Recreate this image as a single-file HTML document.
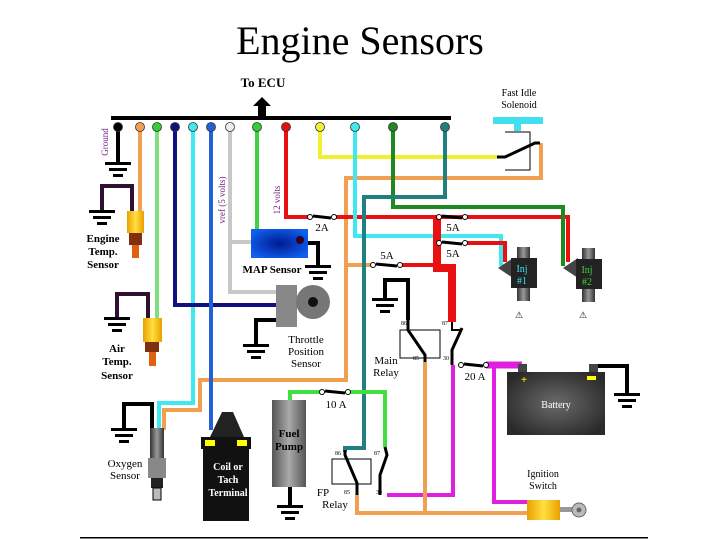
<!DOCTYPE html>
<html><head><meta charset="utf-8"><style>
html,body{margin:0;padding:0;background:#fff;width:720px;height:540px;overflow:hidden}
svg{display:block}
text{font-family:"Liberation Serif",serif}
</style></head><body>
<svg width="720" height="540" viewBox="0 0 720 540" xmlns="http://www.w3.org/2000/svg">
<defs>
<radialGradient id="mapg" cx="0.5" cy="0.5" r="0.6"><stop offset="0" stop-color="#001a90"/><stop offset="1" stop-color="#1060f0"/></radialGradient>
<radialGradient id="batg" cx="0.5" cy="0.5" r="0.6"><stop offset="0" stop-color="#6a6a6a"/><stop offset="1" stop-color="#2a2a2a"/></radialGradient>
<linearGradient id="cylg" x1="0" x2="1"><stop offset="0" stop-color="#333"/><stop offset="0.5" stop-color="#999"/><stop offset="1" stop-color="#333"/></linearGradient>
<linearGradient id="pumpg" x1="0" x2="1"><stop offset="0" stop-color="#555"/><stop offset="0.5" stop-color="#aaa"/><stop offset="1" stop-color="#555"/></linearGradient>
<linearGradient id="yelg" x1="0" x2="1"><stop offset="0" stop-color="#e8a000"/><stop offset="0.5" stop-color="#ffe040"/><stop offset="1" stop-color="#e8a000"/></linearGradient>
<g id="gnd"><rect x="-13" y="0" width="26" height="3" fill="#000"/><rect x="-9" y="6" width="18" height="3" fill="#000"/><rect x="-5" y="12" width="10" height="3" fill="#000"/></g>
</defs>

<text x="360" y="54" font-size="40" text-anchor="middle">Engine Sensors</text>
<text x="263" y="87" font-size="13" font-weight="bold" text-anchor="middle">To ECU</text>
<polygon points="262,97 253,106 258,106 258,116 266,116 266,106 271,106" fill="#000"/>
<rect x="111" y="116" width="340" height="4" fill="#000"/>

<g fill="none" stroke-width="4" stroke-linejoin="miter">
<polyline points="541,143 541,178 346,178 346,380 200,380 200,410 164,410 164,430" stroke="#f0a050"/>
<polyline points="346,265 373,265" stroke="#f0a050"/>
<polyline points="193,127 193,403 159,403 159,430" stroke="#40e8f0"/>
<polyline points="140,127 140,212" stroke="#f0a050"/>
<polyline points="157,127 157,318" stroke="#80e080"/>
<polyline points="175,127 175,305 280,305" stroke="#101080"/>
<polyline points="211,127 211,430" stroke="#2060d8"/>
<polyline points="230,127 230,292 280,292" stroke="#c8c8c8"/>
<polyline points="230,242 252,242" stroke="#c8c8c8"/>
<polyline points="257,127 257,230" stroke="#40d040"/>
<polyline points="286,127 286,217 310,217" stroke="#e81010"/>
<polyline points="334,217 568,217 568,262" stroke="#e81010"/>
<polyline points="320,127 320,157 497,157" stroke="#f0f030"/>
<polyline points="355,127 355,236 501,236 501,266" stroke="#40e8f0"/>
<polyline points="393,127 393,207 563,207 563,266" stroke="#208820"/>
<polyline points="445,127 445,197 364,197 364,448 345,448 345,452" stroke="#208080"/>
<polyline points="465,243 505,243 505,262" stroke="#e81010"/>
<polyline points="400,265 437,265" stroke="#e81010"/>
<polyline points="132,212 132,186 102,186 102,210" stroke="#301030"/>
<polyline points="148,318 148,294 117,294 117,317" stroke="#301030"/>
<polyline points="152,430 152,404 124,404 124,428" stroke="#000"/>
<polyline points="118,127 118,162" stroke="#000"/>
<polyline points="308,243 318,243 318,265" stroke="#000"/>
<polyline points="276,320 256,320 256,344" stroke="#000"/>
<polyline points="385,298 385,280 408,280 408,320" stroke="#000"/>
<polyline points="290,487 290,505" stroke="#000"/>
<polyline points="593,366 627,366 627,393" stroke="#000"/>
<polyline points="290,400 290,392 322,392" stroke="#40e040"/>
<polyline points="348,392 385,392 385,447" stroke="#40e040"/>
<polyline points="453,365 453,495 387,495" stroke="#e020e0"/>
<polyline points="494,365 494,502 527,502" stroke="#e020e0"/>
<polyline points="486,365 522,365" stroke="#e020e0" stroke-width="7"/>
<polyline points="425,362 425,513" stroke="#f0a050"/>
<polyline points="357,495 357,513 527,513" stroke="#f0a050"/>
<polyline points="437,215 437,268 452,268 452,322" stroke="#e81010" stroke-width="8"/>
<polyline points="437,243 440,243" stroke="#e81010"/>
</g>

<g stroke="#333" stroke-width="0.8">
<circle cx="118" cy="127" r="4.5" fill="#000"/>
<circle cx="140" cy="127" r="4.5" fill="#f0a050"/>
<circle cx="157" cy="127" r="4.5" fill="#30d030"/>
<circle cx="175" cy="127" r="4.5" fill="#101080"/>
<circle cx="193" cy="127" r="4.5" fill="#40e8f0"/>
<circle cx="211" cy="127" r="4.5" fill="#2060d8"/>
<circle cx="230" cy="127" r="4.5" fill="#eee"/>
<circle cx="257" cy="127" r="4.5" fill="#30d030"/>
<circle cx="286" cy="127" r="4.5" fill="#e81010"/>
<circle cx="320" cy="127" r="4.5" fill="#f0f030"/>
<circle cx="355" cy="127" r="4.5" fill="#40e8f0"/>
<circle cx="393" cy="127" r="4.5" fill="#208820"/>
<circle cx="445" cy="127" r="4.5" fill="#208080"/>
</g>

<use href="#gnd" x="118" y="162"/>
<use href="#gnd" x="102" y="210"/>
<use href="#gnd" x="117" y="317"/>
<use href="#gnd" x="124" y="428"/>
<use href="#gnd" x="318" y="265"/>
<use href="#gnd" x="256" y="344"/>
<use href="#gnd" x="385" y="298"/>
<use href="#gnd" x="290" y="505"/>
<use href="#gnd" x="627" y="393"/>

<text transform="translate(108,142) rotate(-90)" font-size="9" fill="#702080" text-anchor="middle">Ground</text>
<text transform="translate(225,200) rotate(-90)" font-size="9" fill="#702080" text-anchor="middle">vref (5 volts)</text>
<text transform="translate(280,200) rotate(-90)" font-size="9" fill="#702080" text-anchor="middle">12 volts</text>

<rect x="127" y="211" width="17" height="22" fill="url(#yelg)"/>
<rect x="129" y="233" width="13" height="12" fill="#803010"/>
<rect x="132" y="245" width="7" height="13" fill="#e06010"/>
<g font-size="11" font-weight="bold" text-anchor="middle"><text x="103" y="242">Engine</text><text x="103" y="255">Temp.</text><text x="103" y="268">Sensor</text></g>
<rect x="143" y="318" width="19" height="24" fill="url(#yelg)"/>
<rect x="145" y="342" width="14" height="10" fill="#803010"/>
<rect x="149" y="352" width="7" height="14" fill="#e06010"/>
<g font-size="11" font-weight="bold" text-anchor="middle"><text x="117" y="352">Air</text><text x="117" y="365">Temp.</text><text x="117" y="379">Sensor</text></g>
<rect x="150" y="428" width="14" height="30" fill="url(#cylg)"/>
<rect x="148" y="458" width="18" height="20" fill="#888"/>
<rect x="151" y="478" width="12" height="10" fill="#222"/>
<rect x="153" y="488" width="8" height="12" fill="#bbb" stroke="#000"/>
<g font-size="11" text-anchor="middle"><text x="125" y="467">Oxygen</text><text x="125" y="479">Sensor</text></g>

<rect x="251" y="229" width="57" height="29" fill="url(#mapg)"/>
<circle cx="300" cy="240" r="4" fill="#300020"/>
<text x="272" y="273" font-size="11" font-weight="bold" text-anchor="middle">MAP Sensor</text>

<rect x="276" y="285" width="21" height="42" fill="#888"/>
<circle cx="313" cy="302" r="17" fill="#777"/>
<circle cx="313" cy="302" r="5" fill="#111"/>
<g font-size="11" text-anchor="middle"><text x="306" y="343">Throttle</text><text x="306" y="355">Position</text><text x="306" y="367">Sensor</text></g>

<polygon points="222,412 233,412 244,437 210,437" fill="#222"/>
<rect x="201" y="437" width="50" height="12" fill="#111"/>
<rect x="205" y="440" width="10" height="6" fill="#ff0"/>
<rect x="237" y="440" width="10" height="6" fill="#ff0"/>
<rect x="203" y="449" width="46" height="72" fill="#111"/>
<g font-size="10" fill="#fff" text-anchor="middle" font-weight="bold"><text x="228" y="470">Coil or</text><text x="228" y="483">Tach</text><text x="228" y="496">Terminal</text></g>

<rect x="272" y="400" width="34" height="87" fill="url(#pumpg)"/>
<g font-size="11" font-weight="bold" text-anchor="middle"><text x="289" y="437">Fuel</text><text x="289" y="450">Pump</text></g>

<g fill="#fff" stroke="#000" stroke-width="1">
<circle cx="310" cy="217" r="2.5"/><circle cx="334" cy="217" r="2.5"/>
<circle cx="439" cy="217" r="2.5"/><circle cx="465" cy="217" r="2.5"/>
<circle cx="439" cy="243" r="2.5"/><circle cx="465" cy="243" r="2.5"/>
<circle cx="373" cy="265" r="2.5"/><circle cx="400" cy="265" r="2.5"/>
<circle cx="322" cy="392" r="2.5"/><circle cx="348" cy="392" r="2.5"/>
<circle cx="461" cy="365" r="2.5"/><circle cx="486" cy="365" r="2.5"/>
</g>
<g stroke="#000" stroke-width="3">
<line x1="313" y1="216" x2="331" y2="218"/><line x1="442" y1="216" x2="462" y2="218"/>
<line x1="442" y1="242" x2="462" y2="244"/><line x1="376" y1="264" x2="397" y2="266"/>
<line x1="325" y1="391" x2="345" y2="393"/><line x1="464" y1="364" x2="483" y2="366"/>
</g>
<g font-size="11" text-anchor="middle"><text x="322" y="231">2A</text><text x="453" y="231">5A</text><text x="453" y="257">5A</text><text x="387" y="259">5A</text><text x="336" y="408">10 A</text><text x="475" y="380">20 A</text></g>

<g font-size="10" text-anchor="middle"><text x="519" y="96">Fast Idle</text><text x="519" y="108">Solenoid</text></g>
<rect x="493" y="117" width="50" height="7" fill="#40e0f0"/>
<rect x="514" y="122" width="7" height="9" fill="#40e0f0"/>
<polyline points="505,132 530,132 530,170 505,170" fill="none" stroke="#000" stroke-width="1"/>
<polyline points="497,157 505,157 535,143 540,143" fill="none" stroke="#000" stroke-width="3"/>

<g>
<rect x="517" y="247" width="13" height="54" fill="url(#cylg)"/>
<polygon points="498,268 513,258 513,278" fill="#444"/>
<rect x="511" y="258" width="26" height="30" fill="#222"/>
<text x="522" y="272" font-size="10" fill="#40e0f0" text-anchor="middle">Inj</text><text x="522" y="284" font-size="10" fill="#40e0f0" text-anchor="middle">#1</text>
<text x="519" y="318" font-size="9" text-anchor="middle">⚠</text>
<rect x="582" y="248" width="13" height="54" fill="url(#cylg)"/>
<polygon points="563,268 578,258 578,278" fill="#444"/>
<rect x="576" y="259" width="26" height="30" fill="#222"/>
<text x="587" y="273" font-size="10" fill="#40d040" text-anchor="middle">Inj</text><text x="587" y="285" font-size="10" fill="#40d040" text-anchor="middle">#2</text>
<text x="583" y="318" font-size="9" text-anchor="middle">⚠</text>
</g>

<rect x="400" y="330" width="40" height="28" fill="#fff" stroke="#000" stroke-width="1"/>
<polyline points="408,320 408,330 425,355 425,362" fill="none" stroke="#000" stroke-width="3"/>
<polyline points="452,322 452,330 460,330" fill="none" stroke="#000" stroke-width="2"/>
<polyline points="462,328 452,350 452,365" fill="none" stroke="#000" stroke-width="3"/>
<g font-size="6"><text x="401" y="325">86</text><text x="442" y="325">87</text><text x="413" y="360">85</text><text x="443" y="360">30</text></g>
<g font-size="11" text-anchor="middle"><text x="386" y="364">Main</text><text x="386" y="376">Relay</text></g>

<rect x="332" y="459" width="39" height="25" fill="#fff" stroke="#000" stroke-width="1"/>
<polyline points="345,450 345,455 357,483 357,495" fill="none" stroke="#000" stroke-width="3"/>
<polyline points="385,447 387,455 380,475 380,495" fill="none" stroke="#000" stroke-width="3"/>
<g font-size="6"><text x="335" y="455">86</text><text x="374" y="455">87</text><text x="344" y="494">85</text><text x="376" y="494">30</text></g>
<g font-size="11" text-anchor="middle"><text x="323" y="496">FP</text><text x="335" y="508">Relay</text></g>

<rect x="518" y="364" width="9" height="9" fill="#444"/>
<rect x="589" y="364" width="9" height="9" fill="#444"/>
<rect x="507" y="372" width="98" height="63" fill="url(#batg)"/>
<text x="524" y="383" font-size="11" fill="#ff0" text-anchor="middle" font-weight="bold">+</text>
<rect x="587" y="376" width="9" height="4" fill="#ff0"/>
<text x="556" y="408" font-size="10" fill="#fff" text-anchor="middle">Battery</text>

<g font-size="10" text-anchor="middle"><text x="543" y="477">Ignition</text><text x="543" y="489">Switch</text></g>
<rect x="527" y="500" width="33" height="20" fill="url(#yelg)"/>
<rect x="560" y="507" width="12" height="5" fill="#999"/>
<circle cx="579" cy="510" r="7" fill="#bbb" stroke="#666"/>
<circle cx="579" cy="510" r="2.5" fill="#666"/>

<rect x="80" y="537" width="568" height="1.5" fill="#000"/>
</svg>
</body></html>
